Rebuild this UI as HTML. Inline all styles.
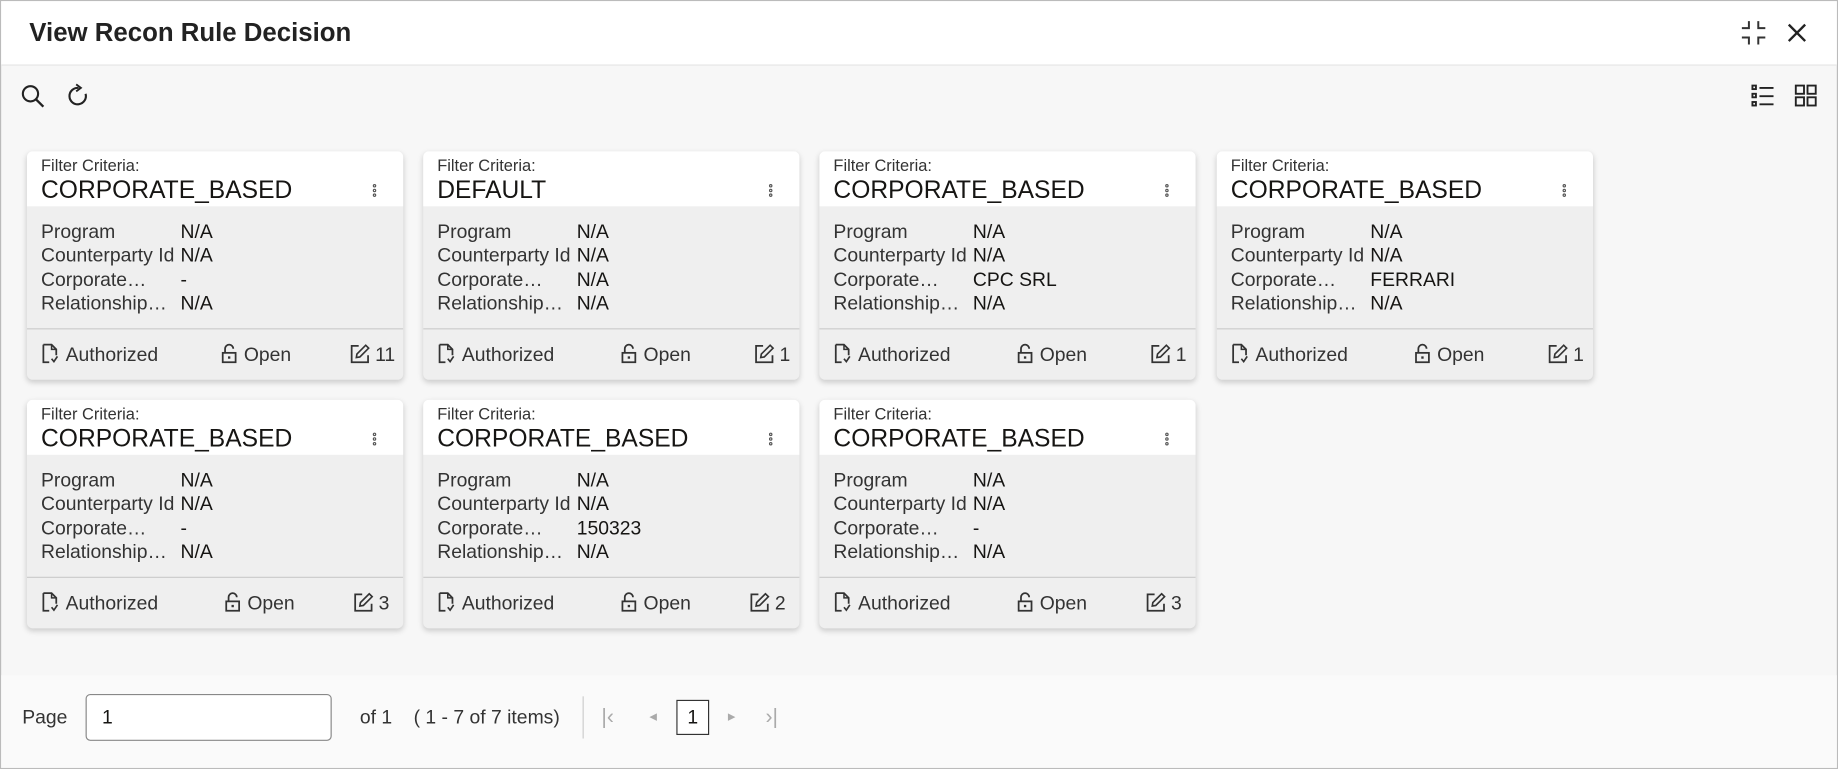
<!DOCTYPE html>
<html><head><meta charset="utf-8"><style>
html,body{margin:0;padding:0;width:1838px;height:769px;overflow:hidden;background:#fff}
#w{position:absolute;left:0;top:0;width:1568px;height:656px;transform:scale(1.17219,1.17226);transform-origin:0 0;font-family:"Liberation Sans",sans-serif;color:#161513;background:#f7f7f7;border:1px solid #bbb;box-sizing:border-box}
.hdr{position:absolute;left:0;top:0;width:1566px;height:54px;background:#fff;border-bottom:1px solid #e4e4e4}
.hdr h1{position:absolute;left:24px;top:14px;margin:0;font-size:22px;font-weight:bold;color:#222}
.card{position:absolute;width:321px;height:195px;background:#efefef;border-radius:5px;box-shadow:0 2px 5px rgba(0,0,0,.18);overflow:hidden}
.ch{height:47px;background:#fff;position:relative}
.fc{position:absolute;left:12px;top:4px;font-size:14px;color:#333}
.tt{position:absolute;left:12px;top:22px;font-size:21px}
.dots{position:absolute;right:22px;top:28px;width:4px}
.dots i{display:block;width:3px;height:3px;border:1px solid #555;border-radius:50%;margin-bottom:1px;box-sizing:border-box}
.rows{padding:12px 0 0 12px;font-size:16.5px;line-height:20.3px;height:92px}
.rows div span{display:inline-block;width:119px;color:#333}
.ft{border-top:1px solid #ccc;height:43px;position:relative;font-size:16.5px;color:#333}
.ft span{position:absolute;top:12px;white-space:nowrap}
.ft svg{vertical-align:-3px;margin-right:4px}
.pg{position:absolute;top:575px;left:0;width:1566px;height:79px;background:#fafafa}
</style></head><body><div id="w">
<svg width="0" height="0" style="position:absolute"><defs>
<g id="doc"><path d="M2 1 H9 L13 5 V10 M2 1 V16 H7" fill="none" stroke="#333" stroke-width="1.5"/><path d="M9 1 V5 H13" fill="none" stroke="#333" stroke-width="1.3"/><path d="M9 13 L11 15.5 L14 11" fill="none" stroke="#333" stroke-width="1.4"/></g>
<g id="lock"><path d="M4 8 V4.5 A3.5 3.5 0 0 1 11 4.5" fill="none" stroke="#333" stroke-width="1.5"/><rect x="2" y="8" width="11" height="8" fill="none" stroke="#333" stroke-width="1.5"/><rect x="6.5" y="11" width="2" height="2" fill="#333"/></g>
<g id="ed"><path d="M8 2 H2 V16 H16 V10" fill="none" stroke="#333" stroke-width="1.5"/><path d="M6 12 L6.5 9 L14 1.5 L16.5 4 L9 11.5 Z" fill="none" stroke="#333" stroke-width="1.4"/></g>
</defs></svg>
<div class="hdr"><h1>View Recon Rule Decision</h1>
<svg style="position:absolute;left:1483px;top:15px" width="24" height="24"><g fill="none" stroke="#333" stroke-width="1.7"><path d="M2 8 H8 V2"/><path d="M22 8 H16 V2"/><path d="M2 16 H8 V22"/><path d="M22 16 H16 V22"/></g></svg>
<svg style="position:absolute;left:1523px;top:18px" width="18" height="18"><g stroke="#222" stroke-width="2"><line x1="2" y1="2" x2="16" y2="16"/><line x1="16" y1="2" x2="2" y2="16"/></g></svg></div>
<svg style="position:absolute;left:16px;top:70px" width="64" height="24"><circle cx="9" cy="9" r="6.5" fill="none" stroke="#222" stroke-width="1.8"/><line x1="14" y1="14" x2="20" y2="20" stroke="#222" stroke-width="2"/><path d="M56 9 A7 7 0 1 1 50 4" fill="none" stroke="#222" stroke-width="1.8"/><path d="M48 1 L52 4 L48 7" fill="none" stroke="#222" stroke-width="1.6"/></svg>
<svg style="position:absolute;left:1492px;top:70px" width="62" height="24"><g fill="none" stroke="#222" stroke-width="1.6"><rect x="2" y="2" width="3" height="3"/><rect x="2" y="9" width="3" height="3"/><rect x="2" y="16" width="3" height="3"/><line x1="8" y1="4" x2="20" y2="4"/><line x1="8" y1="11" x2="20" y2="11"/><line x1="8" y1="18" x2="20" y2="18"/><rect x="39" y="2" width="7" height="7"/><rect x="49" y="2" width="7" height="7"/><rect x="39" y="12" width="7" height="7"/><rect x="49" y="12" width="7" height="7"/></g></svg>

<div class="card" style="left:22px;top:128px"><div class="ch"><div class="fc">Filter Criteria:</div><div class="tt">CORPORATE_BASED</div><div class="dots"><i></i><i></i><i></i></div></div><div class="rows"><div><span>Program</span>N/A</div><div><span>Counterparty Id</span>N/A</div><div><span>Corporate…</span>-</div><div><span>Relationship…</span>N/A</div></div><div class="ft"><span style="left:12px"><svg width="17" height="18"><use href="#doc"/></svg>Authorized</span><span style="left:165px"><svg width="16" height="18"><use href="#lock"/></svg>Open</span><span style="left:275px"><svg width="18" height="18"><use href="#ed"/></svg>11</span></div></div>
<div class="card" style="left:360px;top:128px"><div class="ch"><div class="fc">Filter Criteria:</div><div class="tt">DEFAULT</div><div class="dots"><i></i><i></i><i></i></div></div><div class="rows"><div><span>Program</span>N/A</div><div><span>Counterparty Id</span>N/A</div><div><span>Corporate…</span>N/A</div><div><span>Relationship…</span>N/A</div></div><div class="ft"><span style="left:12px"><svg width="17" height="18"><use href="#doc"/></svg>Authorized</span><span style="left:168px"><svg width="16" height="18"><use href="#lock"/></svg>Open</span><span style="left:282px"><svg width="18" height="18"><use href="#ed"/></svg>1</span></div></div>
<div class="card" style="left:698px;top:128px"><div class="ch"><div class="fc">Filter Criteria:</div><div class="tt">CORPORATE_BASED</div><div class="dots"><i></i><i></i><i></i></div></div><div class="rows"><div><span>Program</span>N/A</div><div><span>Counterparty Id</span>N/A</div><div><span>Corporate…</span>CPC SRL</div><div><span>Relationship…</span>N/A</div></div><div class="ft"><span style="left:12px"><svg width="17" height="18"><use href="#doc"/></svg>Authorized</span><span style="left:168px"><svg width="16" height="18"><use href="#lock"/></svg>Open</span><span style="left:282px"><svg width="18" height="18"><use href="#ed"/></svg>1</span></div></div>
<div class="card" style="left:1037px;top:128px"><div class="ch"><div class="fc">Filter Criteria:</div><div class="tt">CORPORATE_BASED</div><div class="dots"><i></i><i></i><i></i></div></div><div class="rows"><div><span>Program</span>N/A</div><div><span>Counterparty Id</span>N/A</div><div><span>Corporate…</span>FERRARI</div><div><span>Relationship…</span>N/A</div></div><div class="ft"><span style="left:12px"><svg width="17" height="18"><use href="#doc"/></svg>Authorized</span><span style="left:168px"><svg width="16" height="18"><use href="#lock"/></svg>Open</span><span style="left:282px"><svg width="18" height="18"><use href="#ed"/></svg>1</span></div></div>
<div class="card" style="left:22px;top:340px"><div class="ch"><div class="fc">Filter Criteria:</div><div class="tt">CORPORATE_BASED</div><div class="dots"><i></i><i></i><i></i></div></div><div class="rows"><div><span>Program</span>N/A</div><div><span>Counterparty Id</span>N/A</div><div><span>Corporate…</span>-</div><div><span>Relationship…</span>N/A</div></div><div class="ft"><span style="left:12px"><svg width="17" height="18"><use href="#doc"/></svg>Authorized</span><span style="left:168px"><svg width="16" height="18"><use href="#lock"/></svg>Open</span><span style="left:278px"><svg width="18" height="18"><use href="#ed"/></svg>3</span></div></div>
<div class="card" style="left:360px;top:340px"><div class="ch"><div class="fc">Filter Criteria:</div><div class="tt">CORPORATE_BASED</div><div class="dots"><i></i><i></i><i></i></div></div><div class="rows"><div><span>Program</span>N/A</div><div><span>Counterparty Id</span>N/A</div><div><span>Corporate…</span>150323</div><div><span>Relationship…</span>N/A</div></div><div class="ft"><span style="left:12px"><svg width="17" height="18"><use href="#doc"/></svg>Authorized</span><span style="left:168px"><svg width="16" height="18"><use href="#lock"/></svg>Open</span><span style="left:278px"><svg width="18" height="18"><use href="#ed"/></svg>2</span></div></div>
<div class="card" style="left:698px;top:340px"><div class="ch"><div class="fc">Filter Criteria:</div><div class="tt">CORPORATE_BASED</div><div class="dots"><i></i><i></i><i></i></div></div><div class="rows"><div><span>Program</span>N/A</div><div><span>Counterparty Id</span>N/A</div><div><span>Corporate…</span>-</div><div><span>Relationship…</span>N/A</div></div><div class="ft"><span style="left:12px"><svg width="17" height="18"><use href="#doc"/></svg>Authorized</span><span style="left:168px"><svg width="16" height="18"><use href="#lock"/></svg>Open</span><span style="left:278px"><svg width="18" height="18"><use href="#ed"/></svg>3</span></div></div>

<div class="pg">
<div style="position:absolute;left:18px;top:27px;font-size:16.5px;color:#333">Page</div>
<div style="position:absolute;left:72px;top:16px;width:208px;height:38px;border:1px solid #888;border-radius:4px;background:#fff"><span style="position:absolute;left:13px;top:10px;font-size:16.5px">1</span></div>
<div style="position:absolute;left:306px;top:27px;font-size:16.5px;color:#333">of 1 &nbsp;&nbsp;&nbsp;( 1 - 7 of 7 items)</div>
<div style="position:absolute;left:496px;top:18px;width:1px;height:36px;background:#ccc"></div>
<div style="position:absolute;left:512px;top:25px;font-size:18px;color:#aaa">|‹</div>
<div style="position:absolute;left:553px;top:27px;font-size:13px;color:#aaa">◂</div>
<div style="position:absolute;left:576px;top:21px;width:28px;height:30px;border:1px solid #333;box-sizing:border-box;text-align:center;line-height:28px;font-size:16.5px;background:#fff">1</div>
<div style="position:absolute;left:620px;top:27px;font-size:13px;color:#aaa">▸</div>
<div style="position:absolute;left:652px;top:25px;font-size:18px;color:#aaa">›|</div>
</div>
</div></body></html>
